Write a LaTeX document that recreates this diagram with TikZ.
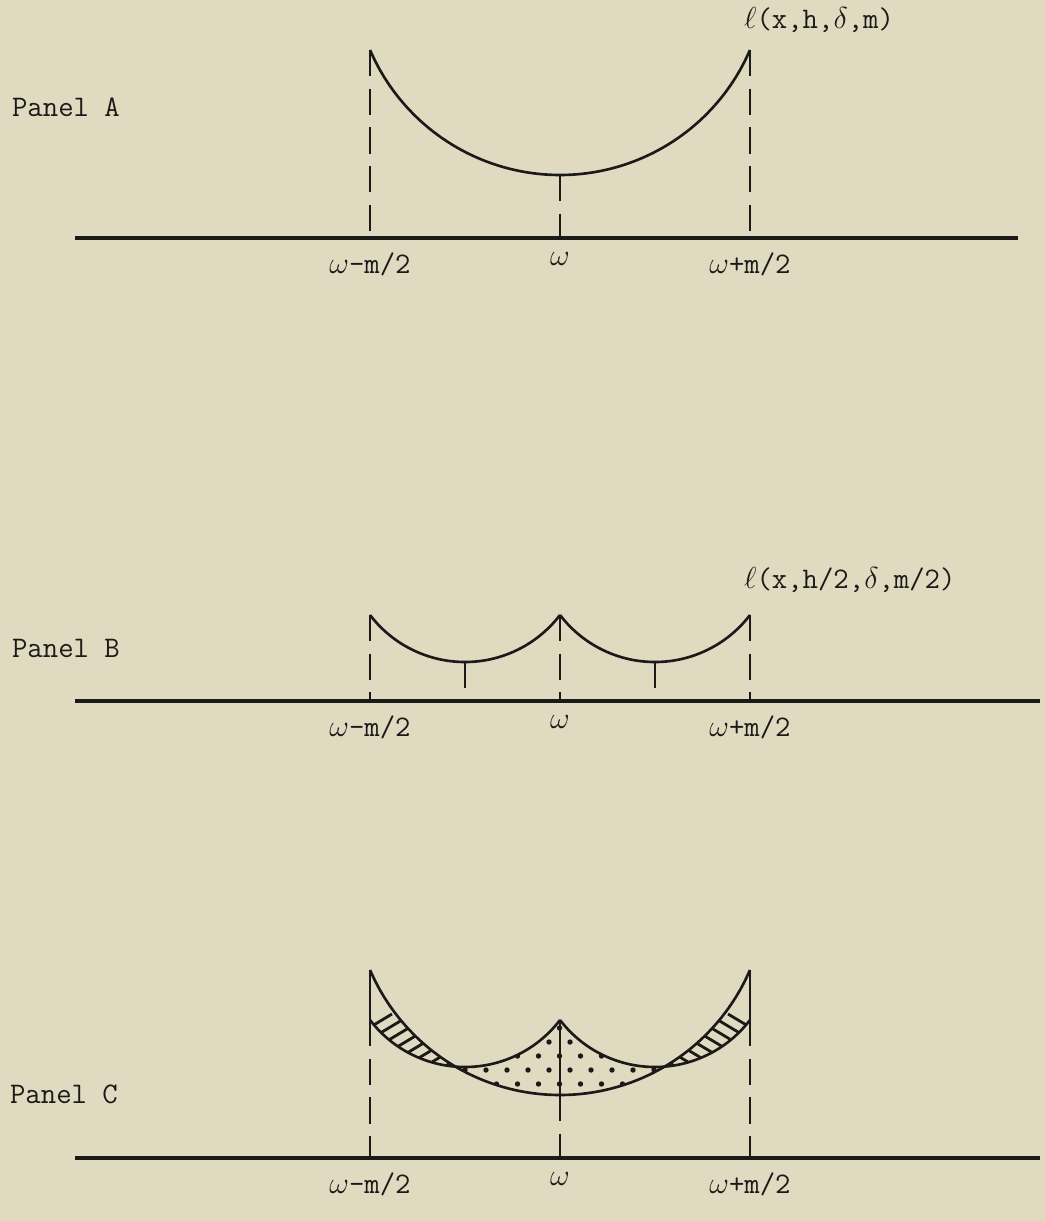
\documentclass[tikz,border=0pt]{standalone}
\usepackage{tikz}

\definecolor{paper}{RGB}{224,218,193}
\definecolor{ink}{RGB}{28,26,24}

\begin{document}
\begin{tikzpicture}[x=0.02cm, y=-0.02cm, every node/.style={font=\fontsize{17}{19}\selectfont\ttfamily, text=ink},
  declare function={bigR=2.069; smallR=1.195;
    bigc(\x,\b)=\b-100*bigR+100*sqrt(max(bigR*bigR-((\x-560)/100)^2,0));
    smallc(\x,\c,\b)=\b-100*smallR+100*sqrt(max(smallR*smallR-((\x-\c)/100)^2,0));}]
\tikzstyle{axis} = [ink, line width=2.8pt]
\tikzstyle{guide} = [ink, line width=1.6pt, dash pattern=on 15pt off 7pt]
\tikzstyle{curve} = [ink, line width=1.5pt]
\tikzstyle{tick} = [anchor=north, inner sep=1pt]
\tikzstyle{tag} = [anchor=west, inner sep=1pt]

% Page
\fill[paper] (0,0) rectangle (1045,1221);
\useasboundingbox (0,0) rectangle (1045,1221);

% Panel A
\node (panelA) [tag] at (10,107) {Panel A};
\coordinate (footLA) at (370,238);
\coordinate (footMA) at (560,238);
\coordinate (footRA) at (750,238);
\draw [axis] (75,238) -- (1018,238);
\draw [curve] plot [domain=370:750, samples=80] (\x,{bigc(\x,175)});
\draw [guide] (370,50) -- (footLA);
\draw [guide] (750,50) -- (footRA);
\draw [guide] (560,175) -- (footMA);
\node (lossA) [tag] at (742,20) {$\ell$(x,h,$\delta$,m)};
\node (lowA) [tick] at ([yshift=-7pt]footLA) {$\omega$-m/2};
\node (midA) [tick] at ([yshift=-7pt]footMA) {$\omega$};
\node (highA) [tick] at ([yshift=-7pt]footRA) {$\omega$+m/2};

% Panel B
\node (panelB) [tag] at (10,648) {Panel B};
\coordinate (footLB) at (370,701);
\coordinate (footMB) at (560,701);
\coordinate (footRB) at (750,701);
\draw [axis] (75,701) -- (1040,701);
\draw [curve] plot [domain=370:560, samples=50] (\x,{smallc(\x,465,662)});
\draw [curve] plot [domain=560:750, samples=50] (\x,{smallc(\x,655,662)});
\draw [guide] (370,615) -- (footLB);
\draw [guide] (560,615) -- (footMB);
\draw [guide] (750,615) -- (footRB);
\draw [guide] (465,662) -- (465,701);
\draw [guide] (655,662) -- (655,701);
\node (lossB) [tag] at (742,580) {$\ell$(x,h/2,$\delta$,m/2)};
\node (lowB) [tick] at ([yshift=-7pt]footLB) {$\omega$-m/2};
\node (midB) [tick] at ([yshift=-7pt]footMB) {$\omega$};
\node (highB) [tick] at ([yshift=-7pt]footRB) {$\omega$+m/2};

% Panel C
\node (panelC) [tag] at (8,1094) {Panel C};
\coordinate (footLC) at (370,1158);
\coordinate (footMC) at (560,1158);
\coordinate (footRC) at (750,1158);
\draw [axis] (75,1158) -- (1040,1158);
% hatched wedges
\begin{scope}
\clip plot [domain=370:455.5, samples=30] (\x,{bigc(\x,1095)})
  -- plot [domain=455.5:370, samples=30] (\x,{smallc(\x,465,1067)}) -- cycle;
\foreach \s in {232,252,...,492}
  \draw [ink, line width=1.6pt] (\s,1110) -- ++(160,-96);
\end{scope}
\begin{scope}
\clip plot [domain=750:664.5, samples=30] (\x,{bigc(\x,1095)})
  -- plot [domain=664.5:750, samples=30] (\x,{smallc(\x,655,1067)}) -- cycle;
\foreach \s in {888,868,...,628}
  \draw [ink, line width=1.6pt] (\s,1110) -- ++(-160,-96);
\end{scope}
% dotted middle
\begin{scope}
\clip plot [domain=455.5:560, samples=30] (\x,{smallc(\x,465,1067)})
  -- plot [domain=560:664.5, samples=30] (\x,{smallc(\x,655,1067)})
  -- plot [domain=664.5:455.5, samples=40] (\x,{bigc(\x,1095)}) -- cycle;
\foreach \r [count=\i] in {1028,1042,1056,1070,1084}
  \foreach \c in {0,...,11}
    \fill [ink] ({444+21*\c+10.5*mod(\i,2)},\r) circle (2.7);
\end{scope}
\draw [curve] plot [domain=370:750, samples=80] (\x,{bigc(\x,1095)});
\draw [curve] plot [domain=370:560, samples=50] (\x,{smallc(\x,465,1067)});
\draw [curve] plot [domain=560:750, samples=50] (\x,{smallc(\x,655,1067)});
\draw [curve] (370,970) -- (370,1020);
\draw [curve] (750,970) -- (750,1020);
\draw [curve] (560,1020) -- (560,1095);
\draw [guide] (370,1020) -- (footLC);
\draw [guide] (750,1020) -- (footRC);
\draw [guide] (560,1095) -- (footMC);
\node (lowC) [tick] at ([yshift=-7pt]footLC) {$\omega$-m/2};
\node (midC) [tick] at ([yshift=-7pt]footMC) {$\omega$};
\node (highC) [tick] at ([yshift=-7pt]footRC) {$\omega$+m/2};
\end{tikzpicture}
\end{document}
